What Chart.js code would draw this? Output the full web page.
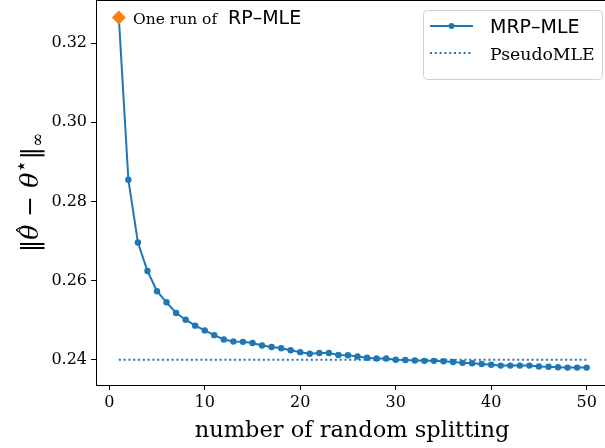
<!DOCTYPE html>
<html>
<head>
<meta charset="utf-8">
<script src="https://cdn.jsdelivr.net/npm/chart.js@4"></script>
<style>
  html, body { margin: 0; padding: 0; background: #fff; overflow: hidden; }
  #chart { display: block; }
</style>
</head>
<body>
<canvas id="chart" width="605" height="448"></canvas>
<script>
// number of random splittings
const splits = [1, 2, 3, 4, 5, 6, 7, 8, 9, 10, 11, 12, 13, 14, 15, 16, 17, 18, 19, 20,
  21, 22, 23, 24, 25, 26, 27, 28, 29, 30, 31, 32, 33, 34, 35, 36, 37, 38, 39, 40,
  41, 42, 43, 44, 45, 46, 47, 48, 49, 50];
// MRP-MLE error
const mrpMle = [0.3265, 0.2855, 0.2696, 0.2624, 0.2573, 0.2545, 0.2518, 0.2501, 0.2486, 0.2474,
  0.2462, 0.2451, 0.2446, 0.2445, 0.2442, 0.2436, 0.2432, 0.2429, 0.2424, 0.2419,
  0.2415, 0.2417, 0.2417, 0.2412, 0.2411, 0.2408, 0.2405, 0.2403, 0.2403, 0.2400,
  0.2399, 0.2398, 0.2397, 0.2397, 0.2396, 0.2394, 0.2392, 0.2391, 0.2389, 0.2387,
  0.2385, 0.2385, 0.2385, 0.2385, 0.2383, 0.2382, 0.2381, 0.2380, 0.2380, 0.2380];
// PseudoMLE reference level
const pseudoX = [1, 50];
const pseudoY = [0.2400, 0.2400];
// single RP-MLE run
const oneRunX = [1];
const oneRunY = [0.3265];

const xTicks = [0, 10, 20, 30, 40, 50];
const yTicks = [0.24, 0.26, 0.28, 0.30, 0.32];

const BLUE = '#1f77b4';
const ORANGE = '#ff7f0e';
const SERIF = '"DejaVu Serif", serif';
const SANS = '"DejaVu Sans", sans-serif';

const pts = (xs, ys) => xs.map((x, i) => ({ x, y: ys[i] }));

// no extra room for edge tick labels, axes fill the figure like matplotlib
const noPad = s => { s.paddingTop = 0; s.paddingBottom = 0; s.paddingLeft = 0; s.paddingRight = 0; };

/* ---------------------------
   extra drawing: frame, titles, legend, note
   --------------------------- */
const decorations = {
  id: 'decorations',
  afterDraw(chart) {
    const ctx = chart.ctx;
    const a = chart.chartArea;
    ctx.save();

    // top frame (right side falls outside the figure)
    ctx.strokeStyle = '#000';
    ctx.lineWidth = 1;
    ctx.beginPath();
    ctx.moveTo(a.left, a.top + 0.5);
    ctx.lineTo(a.right, a.top + 0.5);
    ctx.stroke();

    // x title
    ctx.fillStyle = '#000';
    ctx.font = '22.5px ' + SERIF;
    ctx.textAlign = 'center';
    ctx.textBaseline = 'alphabetic';
    ctx.fillText('number of random splitting', 352, 437);

    // y title  ‖θ̂ − θ⋆‖∞
    const parts = [
      { t: '‖', f: '25px ' + SERIF, dy: 0 },
      { t: 'θ', f: 'italic 25px ' + SERIF, dy: 0, hat: true },
      { t: ' − ', f: '25px ' + SERIF, dy: 0 },
      { t: 'θ', f: 'italic 25px ' + SERIF, dy: 0 },
      { t: '⋆', f: '21px ' + SANS, dy: -10 },
      { t: '‖', f: '25px ' + SERIF, dy: 0 },
      { t: '∞', f: '17px ' + SERIF, dy: 5 }
    ];
    let total = 0;
    parts.forEach(p => { ctx.font = p.f; p.w = ctx.measureText(p.t).width; total += p.w; });
    ctx.translate(38, (a.top + a.bottom) / 2);
    ctx.rotate(-Math.PI / 2);
    ctx.textAlign = 'left';
    let px = -total / 2;
    parts.forEach(p => {
      ctx.font = p.f;
      ctx.fillText(p.t, px, p.dy);
      if (p.hat) {
        ctx.font = '20px ' + SERIF;
        ctx.textAlign = 'center';
        ctx.fillText('ˆ', px + p.w / 2 + 2, -5);
        ctx.textAlign = 'left';
      }
      px += p.w;
    });
    ctx.setTransform(1, 0, 0, 1, 0, 0);

    // note next to the single run
    ctx.textAlign = 'left';
    ctx.font = '15.5px ' + SERIF;
    ctx.fillText('One run of', 133, 24);
    ctx.font = '19px ' + SANS;
    ctx.fillText('RP–MLE', 228, 24);

    // legend
    const bx = 423, by = 10.5, bw = 179, bh = 69;
    ctx.fillStyle = 'rgba(255,255,255,0.8)';
    ctx.strokeStyle = '#d0d0d0';
    ctx.beginPath();
    ctx.roundRect(bx + 0.5, by, bw, bh, 4);
    ctx.fill();
    ctx.stroke();

    ctx.strokeStyle = BLUE;
    ctx.lineWidth = 2;
    ctx.beginPath();
    ctx.moveTo(430, 26);
    ctx.lineTo(473, 26);
    ctx.stroke();
    ctx.fillStyle = BLUE;
    ctx.beginPath();
    ctx.arc(451.5, 26, 3, 0, Math.PI * 2);
    ctx.fill();

    ctx.setLineDash([2, 2.8]);
    ctx.beginPath();
    ctx.moveTo(430, 53);
    ctx.lineTo(473, 53);
    ctx.stroke();
    ctx.setLineDash([]);

    ctx.fillStyle = '#000';
    ctx.font = '19px ' + SANS;
    ctx.fillText('MRP–MLE', 490, 33);
    ctx.font = '17.3px ' + SERIF;
    ctx.fillText('PseudoMLE', 490, 60);

    ctx.restore();
  }
};

new Chart(document.getElementById('chart'), {
  type: 'scatter',
  data: {
    datasets: [
      {
        label: 'One run of RP-MLE',
        data: pts(oneRunX, oneRunY),
        pointStyle: 'rectRot',
        pointRadius: 7,
        pointBackgroundColor: ORANGE,
        pointBorderWidth: 0,
        order: 0
      },
      {
        label: 'MRP-MLE',
        data: pts(splits, mrpMle),
        showLine: true,
        borderColor: BLUE,
        borderWidth: 2,
        pointRadius: 3.2,
        pointBackgroundColor: BLUE,
        pointBorderWidth: 0,
        order: 1
      },
      {
        label: 'PseudoMLE',
        data: pts(pseudoX, pseudoY),
        showLine: true,
        borderColor: BLUE,
        borderWidth: 2,
        borderDash: [2, 2.8],
        pointRadius: 0,
        order: 2
      }
    ]
  },
  options: {
    responsive: false,
    animation: false,
    devicePixelRatio: 1,
    layout: { padding: 0, autoPadding: false },
    plugins: {
      legend: { display: false },
      tooltip: { enabled: false }
    },
    scales: {
      x: {
        type: 'linear',
        min: -1.39,
        max: 51.92,
        afterFit: s => { s.height = 63; noPad(s); },
        afterBuildTicks: s => { s.ticks = xTicks.map(v => ({ value: v })); },
        ticks: { color: '#000', font: { family: SERIF, size: 16 }, padding: 3, maxRotation: 0 },
        grid: { drawOnChartArea: false, color: '#000', tickLength: 5, tickWidth: 1 },
        border: { color: '#000', width: 1 }
      },
      y: {
        min: 0.2336,
        max: 0.3309,
        afterFit: s => { s.width = 96; noPad(s); },
        afterBuildTicks: s => { s.ticks = yTicks.map(v => ({ value: v })); },
        ticks: { color: '#000', font: { family: SERIF, size: 16 }, padding: 4, callback: v => v.toFixed(2) },
        grid: { drawOnChartArea: false, color: '#000', tickLength: 5, tickWidth: 1 },
        border: { color: '#000', width: 1 }
      }
    }
  },
  plugins: [decorations]
});
</script>
</body>
</html>
